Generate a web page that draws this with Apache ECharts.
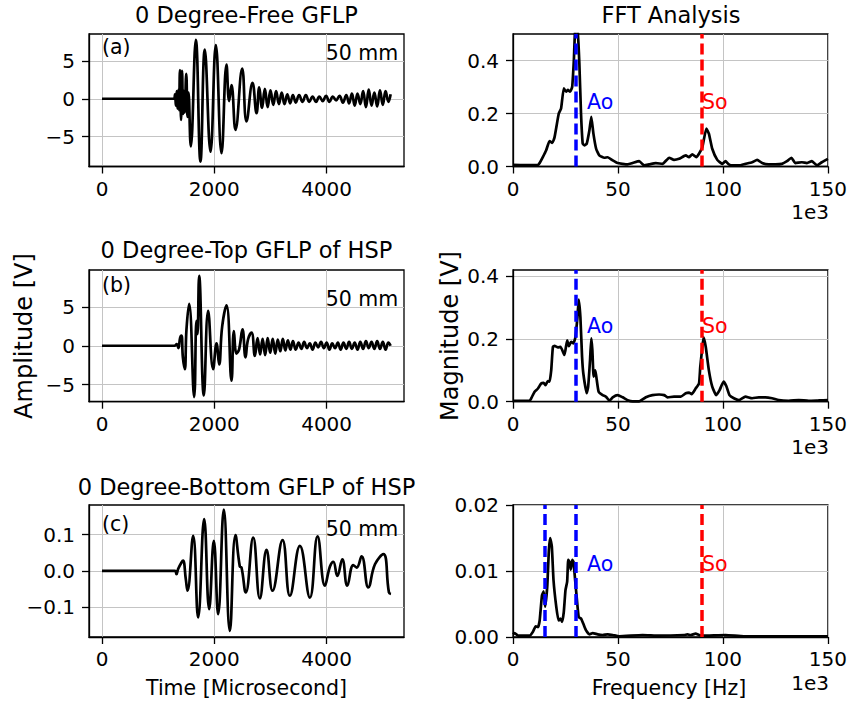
<!DOCTYPE html>
<html><head><meta charset="utf-8">
<script src="https://cdn.jsdelivr.net/npm/echarts@6/dist/echarts.min.js"></script>
<style>html,body{margin:0;padding:0;background:#fff}#c{width:850px;height:706px}</style>
</head><body><div id="c"></div>
<script>
// ---------- data ----------
const titles = ['0 Degree-Free GFLP', 'FFT Analysis', '0 Degree-Top GFLP of HSP', '0 Degree-Bottom GFLP of HSP'];
const panelTags = ['(a)', '(b)', '(c)'];
const distanceText = '50 mm';
const timeTicks = [0, 2000, 4000];
const freqTicks = [0, 50, 100, 150];
const ampTicksAB = [-5, 0, 5];
const ampTicksC = [-0.1, 0, 0.1];
const magTicksAB = [0, 0.2, 0.4];
const magTicksC = [0, 0.01, 0.02];

// (a) time signal
const timeA = [0,1280,1300,1315,1330,1345,1360,1372,1388,1408,1425,1443,1458,1472,1500,1522,1540,1581,1671,1753,1830,1932,2027,2128,2217,2264,2306,2377,2496,2573,2680,2752,2800,2850,2900,2950,3000,3050,3100,3150,3200,3250,3300,3350,3400,3450,3510,3570,3630,3690,3750,3810,3870,3930,3990,4050,4110,4170,4230,4290,4350,4400,4450,4500,4550,4600,4650,4700,4750,4800,4850,4900,4950,5000,5050,5100,5140];
const ampA  = [0,0,0.6,-0.9,1.0,-1.3,1.2,-1.5,3.8,-2.8,3.7,-2.0,1.0,-1.8,3.3,-2.4,0.8,-6.3,7.8,-8.3,6.5,-7.0,7.1,-7.2,4.5,-0.3,1.8,-4.1,4.0,-3.0,2.1,-1.9,1.5,-1.2,1.3,-1.1,1.1,-0.8,1.0,-0.7,0.8,-0.7,0.6,-0.6,0.5,-0.5,0.5,-0.4,0.5,-0.4,0.3,-0.4,0.3,-0.3,0.4,-0.4,0.3,-0.2,0.4,-0.5,0.5,-0.6,0.7,-0.9,0.7,-0.7,1.0,-1.1,1.2,-0.9,0.8,-1.0,1.1,-0.8,1.0,-0.4,0.6];
// (b) time signal
const timeB = [0,1290,1330,1360,1390,1415,1440,1474,1504,1551,1641,1682,1700,1730,1813,1890,1979,2039,2086,2140,2217,2306,2348,2395,2440,2502,2555,2600,2663,2722,2770,2815,2860,2905,2950,2995,3040,3085,3130,3175,3220,3265,3310,3355,3400,3450,3500,3550,3600,3650,3700,3750,3800,3850,3900,3950,4000,4050,4100,4150,4200,4250,4300,4350,4400,4450,4500,4550,4600,4650,4700,4750,4800,4850,4900,4950,5000,5050,5100,5140];
const ampB  = [0,0,0.2,-0.3,1.0,1.3,-1.5,-3.0,2.1,5.4,-6.6,3.2,1.5,9.0,-6.4,4.5,-3.0,0.3,-2.4,2.5,5.2,-4.5,1.9,-1.0,-0.5,2.1,-1.5,0.8,1.7,-1.3,1.0,-1.1,0.9,-1.2,1.0,-0.9,0.9,-1.0,0.8,-0.7,0.9,-0.6,0.7,-0.5,0.6,-0.5,0.4,-0.4,0.5,-0.3,0.3,-0.5,0.4,-0.2,0.5,-0.3,0.4,-0.5,0.3,-0.3,0.4,-0.5,0.4,-0.4,0.5,-0.4,0.4,-0.5,0.5,-0.4,0.6,-0.3,0.5,-0.4,0.6,-0.4,0.5,-0.5,0.4,0.0];
// (c) time signal
const timeC = [0,1296,1326,1355,1415,1444,1492,1522,1623,1712,1819,1908,1991,2068,2169,2276,2377,2454,2484,2560,2692,2811,2930,3037,3215,3346,3524,3702,3839,3970,4059,4119,4190,4279,4368,4475,4534,4623,4742,4861,5010,5110,5146];
const ampC  = [0,0,-0.009,0.005,0.023,0.028,-0.023,-0.055,0.097,-0.129,0.143,-0.106,0.083,-0.12,0.169,-0.166,0.099,0.012,0.009,-0.06,0.092,-0.076,0.058,-0.055,0.085,-0.069,0.069,-0.074,0.095,-0.041,0.012,0.025,-0.014,0.032,-0.041,0.016,0.009,0.04,-0.046,0.018,0.046,-0.06,-0.064];

// FFT (a)  frequency in kHz (axis shows x1e3)
const freqA = [0,5,11.9,12.7,14.2,15.8,17.4,18.7,19.8,21.8,22.9,24.2,25.3,26.1,27.2,28.2,29.0,29.7,30.8,31.6,32.4,33.2,34.0,35.1,36.4,37.3,38.3,39.6,41.1,43.5,45.1,47.5,49.8,52.2,54.6,57.0,60.1,62.5,64.9,68.0,71.2,74.4,76.7,79.1,82.3,83.8,85.4,87.3,88.6,90.2,92.1,93.3,94.9,97.3,99.7,101.2,102.8,104.4,107.6,110.7,113.9,116.3,118.7,121.8,125.0,128.1,130.5,132.6,134.5,137.6,140.0,142.4,144.8,147.1,150];
const magA  = [0.006,0.005,0.006,0.013,0.035,0.061,0.096,0.089,0.111,0.2,0.219,0.295,0.282,0.289,0.282,0.301,0.403,0.52,0.51,0.39,0.2,0.086,0.08,0.086,0.137,0.187,0.124,0.067,0.042,0.033,0.035,0.023,0.013,0.01,0.008,0.013,0.02,0.004,0.008,0.013,0.01,0.033,0.025,0.029,0.042,0.035,0.046,0.035,0.048,0.073,0.143,0.124,0.067,0.025,0.01,0.02,0.008,0.004,0.004,0.01,0.016,0.025,0.013,0.008,0.008,0.01,0.02,0.033,0.013,0.016,0.013,0.02,0.004,0.016,0.029];
// FFT (b)
const freqB = [0,7.9,8.7,10.3,11.9,13.4,14.6,15.5,16.6,17.4,18.2,19.0,19.8,21.4,22.6,24.5,25.8,26.6,27.7,28.8,29.7,30.7,31.3,32.1,32.9,33.5,35.1,35.8,36.7,37.3,37.8,38.4,39.2,39.9,40.8,42.7,44.3,45.9,47.5,49.8,52.2,54.6,57.0,60.1,63.3,66.4,69.6,72.0,73.6,76.7,79.9,82.3,83.8,85.1,87.0,88.6,89.2,90.2,90.8,91.8,93.3,94.9,96.8,98.4,100.3,101.6,103.1,105.2,107.6,110.7,113.9,117.1,120.2,123.4,126.6,131.3,136.1,140.8,145.5,150];
const magB  = [0.003,0.003,0.011,0.032,0.042,0.058,0.06,0.053,0.066,0.064,0.1,0.175,0.178,0.173,0.175,0.149,0.196,0.177,0.191,0.186,0.205,0.27,0.326,0.27,0.143,0.09,0.027,0.048,0.133,0.202,0.165,0.08,0.1,0.069,0.032,0.021,0.016,0.003,0.014,0.021,0.014,0.005,0.001,0.001,0.014,0.021,0.023,0.021,0.014,0.016,0.016,0.027,0.029,0.024,0.042,0.058,0.111,0.175,0.205,0.175,0.1,0.048,0.021,0.037,0.064,0.05,0.021,0.011,0.005,0.016,0.011,0.014,0.014,0.011,0.005,0.003,0.005,0.003,0.004,0.005];
// FFT (c)
const freqC = [0,0.8,2.4,7.9,9.5,10.8,11.9,12.7,13.8,14.6,15.3,16.3,17.1,17.7,18.5,19.3,20.6,21.7,22.6,23.4,24.2,25.0,25.8,26.3,26.9,27.5,28.2,28.8,29.6,30.4,31.3,32.4,33.5,34.8,36.4,38.0,40.3,42.7,45.1,47.5,50.6,61.7,69.6,81.5,83.1,84.6,87.0,88.6,90.2,101.2,110,150];
const magC  = [0.0004,0.0006,0.0002,0.0002,0.0008,0.0016,0.0015,0.0025,0.0063,0.0069,0.0046,0.0076,0.0132,0.015,0.0137,0.0086,0.0046,0.0025,0.0028,0.0023,0.0038,0.0071,0.0084,0.0117,0.0114,0.0102,0.0117,0.0114,0.0086,0.0058,0.003,0.0028,0.002,0.001,0.0004,0.0006,0.0004,0.0003,0.0004,0.0003,0.0001,0.0003,0.0002,0.0003,0.0004,0.0003,0.0005,0.0003,0.0002,0.0003,0.0001,0.0001];

// mode lines (kHz)
const aoLinesAB = [30];
const aoLinesC = [15, 30];
const soLine = 90;

// ---------- chart ----------
const FONT = 'DejaVu Sans';
const chart = echarts.init(document.getElementById('c'), null, {renderer: 'svg'});
const colL = {left: 89, width: 315}, colR = {left: 513, width: 316};
const rowTop = [34, 270, 505], rowH = [132.5, 131.7, 132];

const grids = [], xAxes = [], yAxes = [], series = [];
function pairs(xs, ys) { return xs.map((x, i) => [x, ys[i]]); }
function minus(s) { return String(s).replace('-', '\u2212'); }
function axisBase(gi, min, max, ticks, fmt, margin) {
  return {
    type: 'value', gridIndex: gi, min: min, max: max,
    axisLine: {show: true, onZero: false, lineStyle: {color: '#000', width: 1.3}},
    axisTick: {show: true, inside: false, length: 7, customValues: ticks, lineStyle: {color: '#000', width: 1.3}},
    axisLabel: {customValues: ticks, formatter: fmt, fontFamily: FONT, fontSize: 20, color: '#000', margin: margin},
    splitLine: {show: true, lineStyle: {color: '#c4c4c4', width: 1}}
  };
}
const timeSets = [[timeA, ampA, -8.95, 8.56, ampTicksAB, v => minus(v)],
                  [timeB, ampB, -7.2, 9.75, ampTicksAB, v => minus(v)],
                  [timeC, ampC, -0.183, 0.182, ampTicksC, v => minus(v.toFixed(1))]];
const fftSets = [[freqA, magA, 0.5, magTicksAB, v => v.toFixed(1), aoLinesAB, 0.245],
                 [freqB, magB, 0.42, magTicksAB, v => v.toFixed(1), aoLinesAB, 0.24],
                 [freqC, magC, 0.02, magTicksC, v => v.toFixed(2), aoLinesC, 0.011]];
const tagPos = [[6.8, 6.0], [7.82, 5.98], [0.130, 0.117]];
const DASH = [11, 5];

for (let r = 0; r < 3; r++) {
  const gL = r * 2, gR = r * 2 + 1;
  grids.push({left: colL.left, width: colL.width, top: rowTop[r], height: rowH[r], show: true, borderColor: '#000', borderWidth: 1.3});
  grids.push({left: colR.left, width: colR.width, top: rowTop[r], height: rowH[r], show: true, borderColor: '#000', borderWidth: 1.3});
  const ts = timeSets[r];
  xAxes.push(axisBase(gL, -232, 5378, timeTicks, v => String(v), 12));
  yAxes.push(axisBase(gL, ts[2], ts[3], ts[4], ts[5], 14));
  const fs = fftSets[r];
  xAxes.push(axisBase(gR, 0, 150, freqTicks, v => String(v), 12));
  yAxes.push(axisBase(gR, 0, fs[2], fs[3], fs[4], 14));

  series.push({type: 'line', xAxisIndex: gL, yAxisIndex: gL, data: pairs(ts[0], ts[1]), showSymbol: false, smooth: 0.45,
    lineStyle: {color: '#000', width: 2.7}, clip: true, silent: true});
  series.push({type: 'line', xAxisIndex: gR, yAxisIndex: gR, data: pairs(fs[0], fs[1]), showSymbol: false, smooth: 0.15,
    lineStyle: {color: '#000', width: 2.7}, clip: true, silent: true,
    markLine: {symbol: 'none', silent: true, animation: false, label: {show: false},
      lineStyle: {type: DASH, width: 3.5},
      data: fs[5].map(x => ({xAxis: x, lineStyle: {color: '#0000ff', type: DASH, width: 3.5}}))
        .concat([{xAxis: soLine, lineStyle: {color: '#ff0000', type: DASH, width: 3.5}}])}});
  // Ao / So labels
  series.push({type: 'scatter', xAxisIndex: gR, yAxisIndex: gR, symbolSize: 0, silent: true, itemStyle: {opacity: 1},
    data: [{value: [35.3, fs[6]], label: {formatter: 'Ao', color: '#0000ff'}},
           {value: [soLine, fs[6]], label: {formatter: 'So', color: '#ff0000'}}],
    label: {show: true, position: 'right', distance: 0, fontFamily: FONT, fontSize: 20.5}});
  // panel tag and distance
  series.push({type: 'scatter', xAxisIndex: gL, yAxisIndex: gL, symbolSize: 0, silent: true, itemStyle: {opacity: 1},
    data: [{value: [0, tagPos[r][0]], label: {formatter: panelTags[r], position: 'right'}},
           {value: [5275, tagPos[r][1]], label: {formatter: distanceText, position: 'left'}}],
    label: {show: true, distance: 0, fontFamily: FONT, fontSize: 20.5, color: '#000'}});
}

function txt(x, y, s, size, align, rot) {
  return {type: 'text', x: x, y: y, rotation: rot || 0, silent: true,
    style: {text: s, fill: '#000', font: size + 'px "' + FONT + '"', textAlign: align || 'center', textVerticalAlign: 'middle'}};
}
const graphic = [
  txt(246.5, 15, titles[0], 22.5),
  txt(671, 15, titles[1], 22.5),
  txt(246.5, 250, titles[2], 22.5),
  txt(246.5, 487, titles[3], 22.5),
  txt(24, 336, 'Amplitude [V]', 24, 'center', Math.PI / 2),
  txt(450, 336, 'Magnitude [V]', 24, 'center', Math.PI / 2),
  txt(246.5, 688, 'Time [Microsecond]', 20.5),
  txt(669, 688, 'Frequency [Hz]', 20.5),
  txt(829, 212, '1e3', 20, 'right'),
  txt(829, 447, '1e3', 20, 'right'),
  txt(829, 683, '1e3', 20, 'right')
];

chart.setOption({
  animation: false,
  backgroundColor: '#fff',
  grid: grids, xAxis: xAxes, yAxis: yAxes, series: series, graphic: graphic
});
</script></body></html>
